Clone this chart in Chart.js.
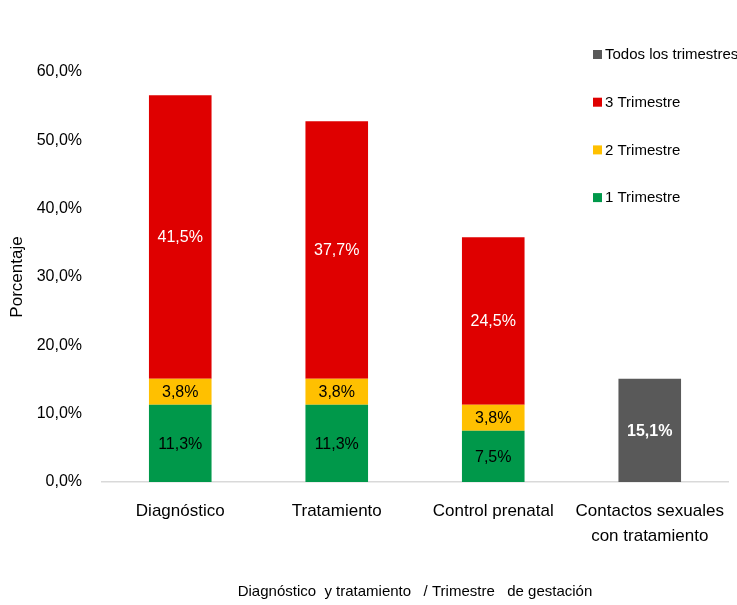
<!DOCTYPE html>
<html>
<head>
<meta charset="utf-8">
<script src="https://cdn.jsdelivr.net/npm/chart.js@4/dist/chart.umd.min.js"></script>
<style>
  html, body { margin: 0; padding: 0; background: #fff; }
  #chart { display: block; }
</style>
</head>
<body>
<canvas id="chart" width="737" height="605"></canvas>
<script>
// datos
const categorias = ['Diagnóstico', 'Tratamiento', 'Control prenatal', ['Contactos sexuales', 'con tratamiento']];
const trimestre1 = [11.3, 11.3, 7.5, null];
const trimestre2 = [3.8, 3.8, 3.8, null];
const trimestre3 = [41.5, 37.7, 24.5, null];
const todos = [null, null, null, 15.1];
const ticksY = [0, 10, 20, 30, 40, 50, 60];

const fuente = '"Liberation Sans", Arial, sans-serif';

function fmt(v) {
  return v.toFixed(1).replace('.', ',') + '%';
}

// etiquetas dentro de las barras
const etiquetas = {
  id: 'etiquetas',
  afterDatasetsDraw(chart) {
    const ctx = chart.ctx;
    ctx.save();
    ctx.textAlign = 'center';
    ctx.textBaseline = 'middle';
    chart.data.datasets.forEach((ds, i) => {
      const meta = chart.getDatasetMeta(i);
      meta.data.forEach((bar, j) => {
        const v = ds.data[j];
        if (v == null) return;
        const y = (bar.y + bar.base) / 2;
        ctx.fillStyle = ds.labelColor;
        ctx.font = (ds.labelBold ? 'bold ' : '') + '16px ' + fuente;
        ctx.fillText(fmt(v), bar.x, y + 1);
      });
    });
    ctx.restore();
  }
};

// leyenda arriba a la derecha, encima del area
const leyenda = {
  id: 'leyenda',
  afterDraw(chart) {
    const ctx = chart.ctx;
    ctx.save();
    ctx.font = '15px ' + fuente;
    ctx.textBaseline = 'middle';
    ctx.textAlign = 'left';
    const orden = [3, 2, 1, 0];
    orden.forEach((idx, k) => {
      const ds = chart.data.datasets[idx];
      const y = 55 + k * 47.7;
      ctx.fillStyle = ds.backgroundColor;
      ctx.fillRect(593, y - 5, 9, 9);
      ctx.fillStyle = '#000';
      ctx.fillText(ds.label, 605, y);
    });
    ctx.restore();
  }
};

new Chart(document.getElementById('chart'), {
  type: 'bar',
  data: {
    labels: categorias,
    datasets: [
      { label: '1 Trimestre', data: trimestre1, backgroundColor: '#00984A', labelColor: '#000' },
      { label: '2 Trimestre', data: trimestre2, backgroundColor: '#FFC000', labelColor: '#000' },
      { label: '3 Trimestre', data: trimestre3, backgroundColor: '#DF0000', labelColor: '#fff' },
      { label: 'Todos los trimestres', data: todos, backgroundColor: '#595959', labelColor: '#fff', labelBold: true }
    ]
  },
  options: {
    responsive: false,
    animation: false,
    layout: { padding: { top: 72, right: 9, bottom: 4, left: 7 } },
    datasets: { bar: { categoryPercentage: 1, barPercentage: 0.4 } },
    plugins: {
      legend: { display: false },
      tooltip: { enabled: false }
    },
    scales: {
      x: {
        stacked: true,
        grid: { display: false, drawTicks: false },
        border: { display: true, color: '#d9d9d9', width: 1.5 },
        ticks: { color: '#000', font: { family: fuente, size: 17, lineHeight: 1.45 }, padding: 17, maxRotation: 0, autoSkip: false },
        title: { display: true, text: 'Diagnóstico  y tratamiento   / Trimestre   de gestación', color: '#000', font: { family: fuente, size: 15 }, padding: { top: 0, bottom: 0 } },
        afterFit(scale) {
          scale.height = 119;
          scale.paddingLeft = 0;
          scale.paddingRight = 0;
        }
      },
      y: {
        stacked: true,
        min: 0,
        max: 60,
        grid: { display: false, drawTicks: false },
        border: { display: false },
        afterBuildTicks(scale) { scale.ticks = ticksY.map(v => ({ value: v })); },
        ticks: { color: '#000', font: { family: fuente, size: 16 }, padding: 20, callback: v => fmt(v) },
        title: { display: true, text: 'Porcentaje', color: '#000', font: { family: fuente, size: 17 }, padding: { top: 0, bottom: 0 } },
        afterFit(scale) { scale.width = 95; }
      }
    }
  },
  plugins: [etiquetas, leyenda]
});
</script>
</body>
</html>
